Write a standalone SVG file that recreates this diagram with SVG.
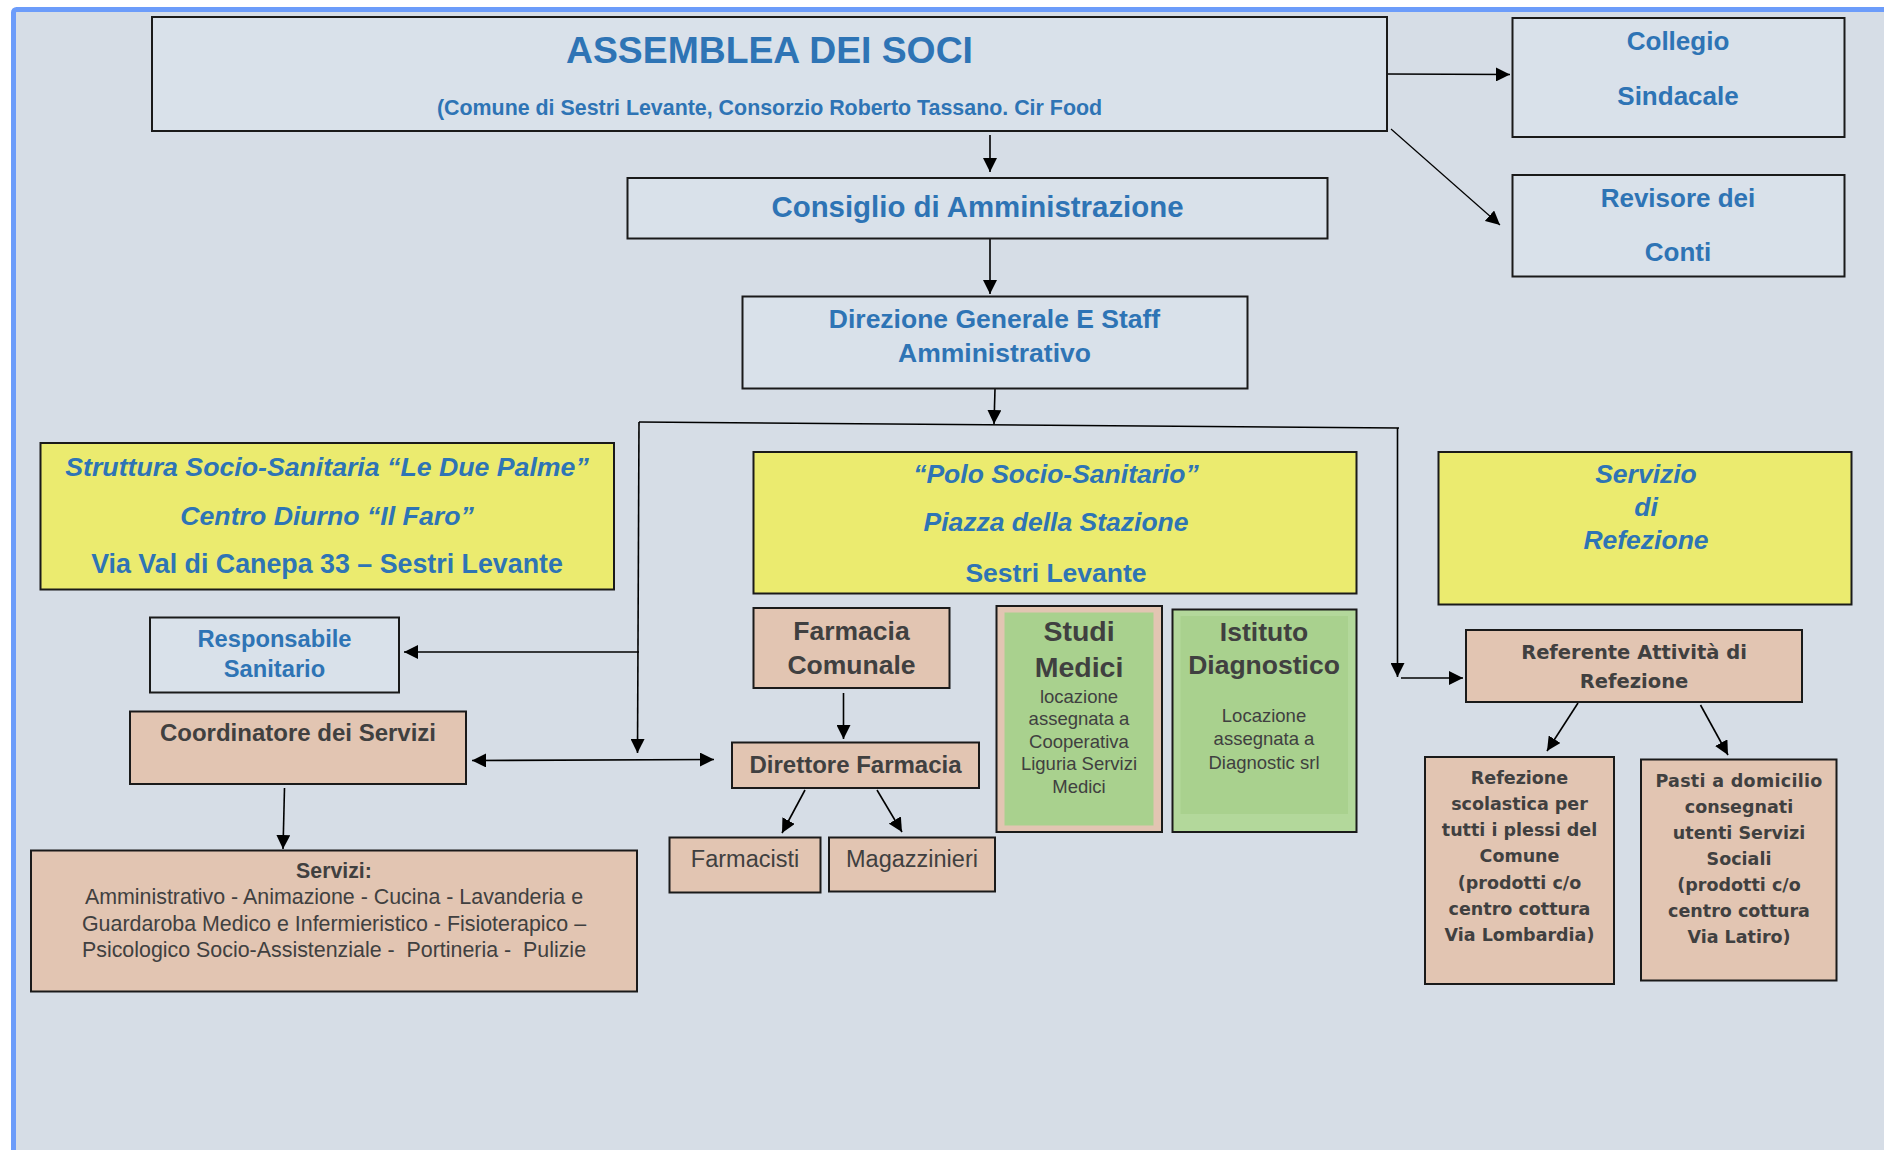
<svg xmlns="http://www.w3.org/2000/svg" width="1884" height="1150" viewBox="0 0 1884 1150">
<defs>
<marker id="ah" viewBox="0 0 10 10" refX="10" refY="5" markerWidth="14" markerHeight="14" markerUnits="userSpaceOnUse" orient="auto">
<path d="M0,0 L10,5 L0,10 z" fill="#000"/>
</marker>
<marker id="ahs" viewBox="0 0 10 10" refX="0" refY="5" markerWidth="14" markerHeight="14" markerUnits="userSpaceOnUse" orient="auto">
<path d="M10,0 L0,5 L10,10 z" fill="#000"/>
</marker>
</defs>
<style>
.bx{stroke:#1a1a1a;stroke-width:2}
.lb{fill:#d9e1ea}
.ye{fill:#ebeb6f}
.pe{fill:#e2c5b2}
.gr{fill:#a9d18e}
.gr2{fill:#b3d89b}
text{font-family:"Liberation Sans",Arial,sans-serif;text-anchor:middle}
.b{font-weight:bold}
.i{font-style:italic}
.blue{fill:#2e74b5}
.dk{fill:#404040}
.dv{font-family:"DejaVu Sans",Verdana,sans-serif;font-weight:bold;fill:#404040}
.cn{fill:none;stroke:#000;stroke-width:1.6}
</style>
<rect x="0" y="0" width="1884" height="1150" fill="#fff"/>
<rect x="13.5" y="9.5" width="1900" height="1200" rx="3" fill="#d6dde6" stroke="#6c9cfa" stroke-width="5"/>

<g id="connectors">
<line class="cn" x1="990" y1="135" x2="990" y2="172" marker-end="url(#ah)"/>
<line class="cn" x1="990" y1="239" x2="990" y2="294" marker-end="url(#ah)"/>
<line class="cn" x1="1387" y1="74" x2="1510" y2="74.5" marker-end="url(#ah)"/>
<line class="cn" x1="1391" y1="129" x2="1500" y2="225" marker-end="url(#ah)" style="stroke-width:1.2"/>
<line class="cn" x1="995" y1="389" x2="994" y2="424" marker-end="url(#ah)"/>
<line class="cn" x1="639" y1="422" x2="1399" y2="428"/>
<line class="cn" x1="639" y1="422" x2="637.5" y2="753" marker-end="url(#ah)"/>
<line class="cn" x1="639" y1="652" x2="404" y2="652" marker-end="url(#ah)"/>
<line class="cn" x1="472" y1="760.5" x2="714" y2="759.5" marker-start="url(#ahs)" marker-end="url(#ah)"/>
<line class="cn" x1="284.5" y1="788" x2="283" y2="849" marker-end="url(#ah)"/>
<line class="cn" x1="843.5" y1="693" x2="843.5" y2="739" marker-end="url(#ah)"/>
<line class="cn" x1="805" y1="790" x2="782" y2="833" marker-end="url(#ah)"/>
<line class="cn" x1="877" y1="790" x2="902" y2="832" marker-end="url(#ah)"/>
<line class="cn" x1="1397.5" y1="428" x2="1397.5" y2="677" marker-end="url(#ah)"/>
<line class="cn" x1="1401" y1="678" x2="1463" y2="678" marker-end="url(#ah)"/>
<line class="cn" x1="1578" y1="703" x2="1547" y2="751" marker-end="url(#ah)"/>
<line class="cn" x1="1700.5" y1="705" x2="1728" y2="755" marker-end="url(#ah)"/>
</g>

<g id="assemblea">
<rect class="bx lb" x="152" y="17" width="1235" height="114"/>
<text class="b blue" x="769.5" y="63" font-size="37.3">ASSEMBLEA DEI SOCI</text>
<text class="b blue" x="769.5" y="114.5" font-size="21.4">(Comune di Sestri Levante, Consorzio Roberto Tassano. Cir Food</text>
</g>

<g id="collegio">
<rect class="bx lb" x="1512.5" y="18" width="332" height="119"/>
<text class="b blue" x="1678" y="50" font-size="26">Collegio</text>
<text class="b blue" x="1678" y="105" font-size="26">Sindacale</text>
</g>

<g id="revisore">
<rect class="bx lb" x="1512.5" y="175" width="332" height="101.5"/>
<text class="b blue" x="1678" y="207" font-size="26">Revisore dei</text>
<text class="b blue" x="1678" y="261" font-size="26">Conti</text>
</g>

<g id="consiglio">
<rect class="bx lb" x="627.5" y="178" width="700" height="60.5"/>
<text class="b blue" x="977.5" y="216.5" font-size="29.4">Consiglio di Amministrazione</text>
</g>

<g id="direzione">
<rect class="bx lb" x="742.5" y="296.5" width="505" height="92"/>
<text class="b blue" x="994.5" y="328" font-size="26.5">Direzione Generale E Staff</text>
<text class="b blue" x="994.5" y="362" font-size="26.5">Amministrativo</text>
</g>

<g id="struttura">
<rect class="bx ye" x="40.5" y="443" width="573.5" height="146.5"/>
<text class="b i blue" x="327" y="475.5" font-size="26.7">Struttura Socio-Sanitaria “Le Due Palme”</text>
<text class="b i blue" x="327" y="524.5" font-size="26.7">Centro Diurno “Il Faro”</text>
<text class="b blue" x="327" y="572.5" font-size="26.8">Via Val di Canepa 33 – Sestri Levante</text>
</g>

<g id="polo">
<rect class="bx ye" x="753.5" y="452" width="603" height="141.5"/>
<text class="b i blue" x="1056" y="482.5" font-size="26.5">“Polo Socio-Sanitario”</text>
<text class="b i blue" x="1056" y="531" font-size="26.5">Piazza della Stazione</text>
<text class="b blue" x="1056" y="581.5" font-size="26.5">Sestri Levante</text>
</g>

<g id="servizio-refezione">
<rect class="bx ye" x="1438.5" y="452" width="413" height="152.5"/>
<text class="b i blue" x="1646" y="483" font-size="26.5">Servizio</text>
<text class="b i blue" x="1646" y="515.5" font-size="26.5">di</text>
<text class="b i blue" x="1646" y="548.5" font-size="26.5">Refezione</text>
</g>

<g id="responsabile">
<rect class="bx lb" x="150" y="617.5" width="249" height="75"/>
<text class="b blue" x="274.5" y="646.5" font-size="23.7">Responsabile</text>
<text class="b blue" x="274.5" y="677" font-size="23.7">Sanitario</text>
</g>

<g id="coordinatore">
<rect class="bx pe" x="130" y="711.5" width="336" height="72.5"/>
<text class="b dk" x="298" y="741" font-size="24">Coordinatore dei Servizi</text>
</g>

<g id="servizi">
<rect class="bx pe" x="31" y="850.5" width="606" height="141"/>
<text class="b dk" x="334" y="878" font-size="21.3">Servizi:</text>
<text class="dk" x="334" y="904" font-size="21.4">Amministrativo - Animazione - Cucina - Lavanderia e</text>
<text class="dk" x="334" y="930.5" font-size="21.4">Guardaroba Medico e Infermieristico - Fisioterapico –</text>
<text class="dk" x="334" y="956.5" font-size="21.4" xml:space="preserve">Psicologico Socio-Assistenziale -  Portineria -  Pulizie</text>
</g>

<g id="farmacia-comunale">
<rect class="bx pe" x="753.5" y="608" width="196" height="80"/>
<text class="b dk" x="851.5" y="640" font-size="26.5">Farmacia</text>
<text class="b dk" x="851.5" y="674" font-size="26.5">Comunale</text>
</g>

<g id="direttore">
<rect class="bx pe" x="732" y="742.5" width="247" height="45.5"/>
<text class="b dk" x="855.5" y="772.5" font-size="24">Direttore Farmacia</text>
</g>

<g id="farmacisti">
<rect class="bx pe" x="669.5" y="837.5" width="151" height="55"/>
<text class="dk" x="745" y="866.5" font-size="23.5">Farmacisti</text>
</g>

<g id="magazzinieri">
<rect class="bx pe" x="829" y="837.5" width="166" height="54"/>
<text class="dk" x="912" y="866.5" font-size="23.5">Magazzinieri</text>
</g>

<g id="studi-medici">
<rect class="bx pe" x="996.5" y="606" width="165.5" height="226"/>
<rect class="gr" x="1004.5" y="612.5" width="149" height="213"/>
<text class="b dk" x="1079" y="640.5" font-size="28.5">Studi</text>
<text class="b dk" x="1079" y="676.5" font-size="28.5">Medici</text>
<text class="dk" x="1079" y="702.5" font-size="18.5">locazione</text>
<text class="dk" x="1079" y="725" font-size="18.5">assegnata a</text>
<text class="dk" x="1079" y="747.5" font-size="18.5">Cooperativa</text>
<text class="dk" x="1079" y="770" font-size="18.5">Liguria Servizi</text>
<text class="dk" x="1079" y="793" font-size="18.5">Medici</text>
</g>

<g id="istituto">
<rect class="bx gr2" x="1172.5" y="609.5" width="184" height="222.5"/>
<rect class="gr" x="1180.5" y="616" width="167.5" height="198"/>
<text class="b dk" x="1264" y="640.5" font-size="26.5">Istituto</text>
<text class="b dk" x="1264" y="673.5" font-size="26.5">Diagnostico</text>
<text class="dk" x="1264" y="721.5" font-size="18.5">Locazione</text>
<text class="dk" x="1264" y="745" font-size="18.5">assegnata a</text>
<text class="dk" x="1264" y="768.5" font-size="18.5">Diagnostic srl</text>
</g>

<g id="referente">
<rect class="bx pe" x="1466" y="630" width="336" height="72"/>
<text class="dv" x="1634" y="658.5" font-size="19.5">Referente Attività di</text>
<text class="dv" x="1634" y="688" font-size="19.5">Refezione</text>
</g>

<g id="refezione-scolastica">
<rect class="bx pe" x="1425" y="757" width="189" height="227"/>
<text class="dv" x="1519.5" y="784" font-size="17.5">Refezione</text>
<text class="dv" x="1519.5" y="810" font-size="17.5">scolastica per</text>
<text class="dv" x="1519.5" y="836" font-size="17.5">tutti i plessi del</text>
<text class="dv" x="1519.5" y="862" font-size="17.5">Comune</text>
<text class="dv" x="1519.5" y="888.5" font-size="17.5">(prodotti c/o</text>
<text class="dv" x="1519.5" y="914.5" font-size="17.5">centro cottura</text>
<text class="dv" x="1519.5" y="940.5" font-size="17.5">Via Lombardia)</text>
</g>

<g id="pasti-domicilio">
<rect class="bx pe" x="1641" y="759.5" width="195.5" height="221"/>
<text class="dv" x="1739" y="787" font-size="17.5" letter-spacing="0.3">Pasti a domicilio</text>
<text class="dv" x="1739" y="813" font-size="17.5">consegnati</text>
<text class="dv" x="1739" y="839" font-size="17.5">utenti Servizi</text>
<text class="dv" x="1739" y="865" font-size="17.5">Sociali</text>
<text class="dv" x="1739" y="891" font-size="17.5">(prodotti c/o</text>
<text class="dv" x="1739" y="916.5" font-size="17.5">centro cottura</text>
<text class="dv" x="1739" y="942.5" font-size="17.5">Via Latiro)</text>
</g>
</svg>
